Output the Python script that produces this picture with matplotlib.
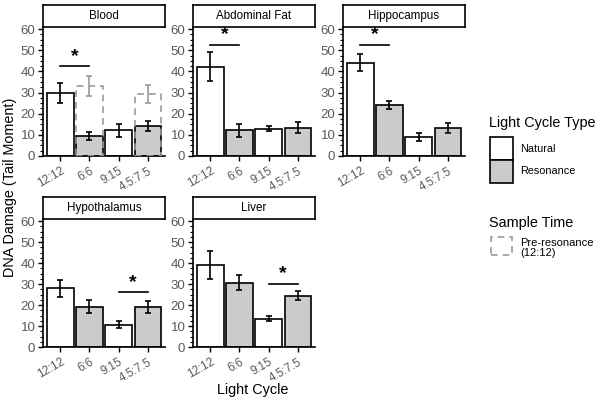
import numpy as np
import matplotlib
matplotlib.use('Agg')
import matplotlib.pyplot as plt
from matplotlib.patches import Rectangle
from matplotlib.ticker import MultipleLocator

plt.rcParams['font.family'] = ['Liberation Sans', 'DejaVu Sans']

cycles = ['12:12', '6:6', '9:15', '4.5:7.5']
cycle_type = ['Natural', 'Resonance', 'Natural', 'Resonance']
tissues = ['Blood', 'Abdominal Fat', 'Hippocampus', 'Hypothalamus', 'Liver']

blood_mean = [29.8, 9.5, 12.2, 14.1]
blood_err = [4.7, 1.9, 3.0, 2.5]
fat_mean = [42.3, 12.2, 12.9, 13.4]
fat_err = [7.0, 3.0, 1.1, 2.7]
hippo_mean = [44.2, 24.1, 9.0, 13.4]
hippo_err = [4.1, 1.8, 1.9, 2.4]
hypo_mean = [28.0, 19.3, 10.7, 18.9]
hypo_err = [4.0, 3.0, 1.6, 2.9]
liver_mean = [39.1, 30.7, 13.5, 24.4]
liver_err = [6.5, 3.4, 1.3, 2.2]

# pre-resonance (12:12) samples shown in blood only
pre_idx = [1, 3]
pre_mean = [32.9, 29.2]
pre_err = [4.7, 4.3]

# significance bars: (tissue, first bar, second bar, height)
sig_tissue = ['Blood', 'Abdominal Fat', 'Hippocampus', 'Hypothalamus', 'Liver']
sig_pair = [(0, 1), (0, 1), (0, 1), (2, 3), (2, 3)]
sig_y = [42.5, 52.6, 52.6, 26.1, 30.2]

means = [blood_mean, fat_mean, hippo_mean, hypo_mean, liver_mean]
errs = [blood_err, fat_err, hippo_err, hypo_err, liver_err]

fills = {'Natural': 'white', 'Resonance': '#cbcbcb'}
tick_col = '#5a5a5a'
lw = 1.2

W, H = 600, 403
fig = plt.figure(figsize=(W / 100, H / 100), dpi=100)

def fx(px):
    return px / W

def fy(py):
    return 1 - py / H

lefts = [43, 193, 343, 43, 193]
tops = [27, 27, 27, 219, 219]
bottoms = [156, 156, 156, 347, 347]
aw = 122
strip_h = 22

x = np.arange(1, 5)
for i, t in enumerate(tissues):
    ax = fig.add_axes([fx(lefts[i]), fy(bottoms[i]), fx(aw), (bottoms[i] - tops[i]) / H])
    ax.bar(x, means[i], width=0.9, color=[fills[c] for c in cycle_type],
           edgecolor='black', linewidth=lw, zorder=2)
    ax.errorbar(x, means[i], yerr=errs[i], fmt='none', ecolor='black',
                elinewidth=lw, capsize=2.5, capthick=lw, zorder=3)
    if t == 'Blood':
        px = x[pre_idx]
        ax.bar(px, pre_mean, width=0.9, facecolor='none', edgecolor='#999999',
               linewidth=lw, linestyle=(0, (4, 3)), zorder=4)
        ax.errorbar(px, pre_mean, yerr=pre_err, fmt='none', ecolor='#999999',
                    elinewidth=lw, capsize=2.5, capthick=lw, zorder=4)
    for st, pair, sy in zip(sig_tissue, sig_pair, sig_y):
        if st == t:
            x0, x1 = x[pair[0]], x[pair[1]]
            ax.plot([x0, x1], [sy, sy], color='black', lw=lw, zorder=3)
            ax.text((x0 + x1) / 2, sy + 0.7, '*', ha='center', va='bottom',
                    fontsize=14, fontweight='bold')
    ax.set_xlim(0.4, 4.6)
    ax.set_ylim(0, 61)
    ax.set_xticks(x)
    ax.set_xticklabels(cycles, rotation=30, ha='right', rotation_mode='anchor',
                       color=tick_col, fontsize=8.4)
    ax.set_yticks(np.arange(0, 61, 10))
    ax.yaxis.set_minor_locator(MultipleLocator(2.5))
    ax.tick_params(axis='y', labelsize=9.5, labelcolor=tick_col, length=3.5,
                   width=1, pad=2)
    ax.tick_params(axis='y', which='minor', length=2, width=0.8)
    ax.tick_params(axis='x', length=3.5, width=1, pad=3)
    for s in ['top', 'right']:
        ax.spines[s].set_visible(False)
    for s in ['left', 'bottom']:
        ax.spines[s].set_linewidth(lw)
    # facet strip
    sax = fig.add_axes([fx(lefts[i]), fy(tops[i]), fx(aw), strip_h / H])
    sax.set_xticks([])
    sax.set_yticks([])
    for s in sax.spines.values():
        s.set_linewidth(lw)
    sax.text(0.5, 0.5, t, ha='center', va='center', fontsize=8.4,
             transform=sax.transAxes)

fig.text(fx(10), fy(187), 'DNA Damage (Tail Moment)', rotation=90,
         ha='center', va='center', fontsize=10.4)
fig.text(fx(253), fy(390), 'Light Cycle', ha='center', va='center', fontsize=10.4)

# legend: light cycle type
fig.text(fx(489), fy(123), 'Light Cycle Type', ha='left', va='center', fontsize=10.4)
leg_labels = ['Natural', 'Resonance']
for k, lab in enumerate(leg_labels):
    y0 = 137 + k * 23
    fig.add_artist(Rectangle((fx(490), fy(y0 + 23)), fx(23), 23 / H,
                             transform=fig.transFigure, facecolor=fills[lab],
                             edgecolor='black', linewidth=lw))
    fig.text(fx(520), fy(y0 + 11.5), lab, ha='left', va='center', fontsize=7.8)

# legend: sample time
fig.text(fx(489), fy(223), 'Sample Time', ha='left', va='center', fontsize=10.4)
fig.add_artist(Rectangle((fx(490.5), fy(255)), fx(21.5), 18 / H,
                         transform=fig.transFigure, facecolor='none',
                         edgecolor='#999999', linewidth=lw, linestyle=(0, (4, 3))))
fig.text(fx(520), fy(248), 'Pre-resonance\n(12:12)', ha='left', va='center',
         fontsize=8, linespacing=1.0)

fig.savefig('out.png', dpi=100)
